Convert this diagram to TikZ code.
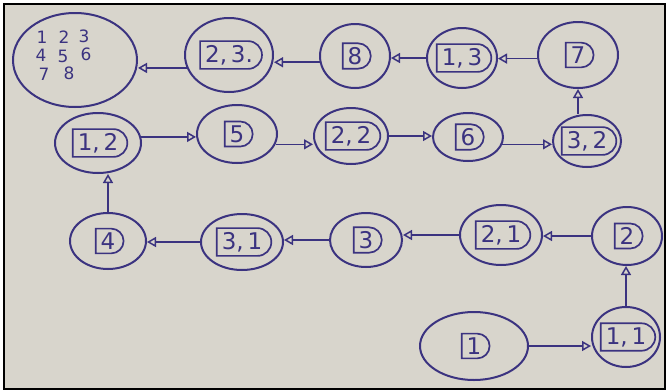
\documentclass[tikz,border=0pt]{standalone}
\usepackage{fontspec}
\setmainfont{DejaVu Sans}
\usetikzlibrary{arrows.meta,shapes.geometric,shapes.misc}
\definecolor{paper}{HTML}{D8D5CC}
\definecolor{ink}{HTML}{3B3380}
\tikzset{
  ell/.style={draw=ink, line width=2pt, ellipse, inner sep=0pt},
  dbox/.style={draw=ink, line width=1.7pt, rounded rectangle, rounded rectangle left arc=none,
    inner xsep=5pt, inner ysep=4pt, text=ink, font=\fontsize{23}{23}\selectfont},
  gtxt/.style={text=ink, inner sep=0pt, font=\fontsize{17}{17}\selectfont},
  link/.style={draw=ink, line width=1.6pt, -{Triangle[open, length=9pt, width=10pt, line width=1.5pt]}}
}
% state node: name, x, y, width, height, label
\newcommand\stnode[6]{%
  \node[ell, minimum width=#4pt, minimum height=#5pt] (#1) at (#2,#3) {};
  \node[dbox] (#1t) at (#1) {#6};
}
\begin{document}
\begin{tikzpicture}[x=1pt, y=-1pt]
  \useasboundingbox (0,0) rectangle (668,391);
  \fill[white] (0,0) rectangle (668,391);
  \draw[black, line width=2.2pt, fill=paper] (4,4) rectangle (665,389);

  % goal state with its board
  \node[ell, minimum width=124pt, minimum height=94pt] (goal) at (75,60) {};
  \node[gtxt] (g1) at (42,37) {1};
  \node[gtxt] (g2) at (64,37) {2};
  \node[gtxt] (g3) at (84,36) {3};
  \node[gtxt] (g4) at (41,55) {4};
  \node[gtxt] (g5) at (63,56) {5};
  \node[gtxt] (g6) at (86,54) {6};
  \node[gtxt] (g7) at (44,74) {7};
  \node[gtxt] (g8) at (69,73) {8};

  % top row
  \stnode{s23}{229}{55}{88}{74}{2,\,3.}
  \stnode{s8}{355}{56}{70}{64}{8}
  \stnode{s13}{462}{58}{70}{60}{1,\,3}
  \stnode{s7}{578}{55}{80}{66}{7}

  % middle row
  \stnode{s12}{98}{143}{86}{60}{1,\,2}
  \stnode{s5}{237}{134}{80}{58}{5}
  \stnode{s22}{351}{136}{74}{56}{2,\,2}
  \stnode{s6}{468}{137}{70}{48}{6}
  \stnode{s32}{587}{141}{68}{52}{3,\,2}

  % lower row
  \stnode{s4}{108}{241}{76}{56}{4}
  \stnode{s31}{242}{242}{82}{56}{3,\,1}
  \stnode{s3}{366}{240}{72}{54}{3}
  \stnode{s21}{501}{235}{82}{60}{2,\,1}
  \stnode{s2}{627}{236}{70}{58}{2}

  % start row
  \stnode{s1}{474}{346}{108}{68}{1}
  \stnode{s11}{626}{337}{68}{60}{1,\,1}

  % path through the states
  \draw[link] (s1.east) -- (s11.west |- s1.east);
  \draw[link] (s11.north) -- (s2.south -| s11.north);
  \draw[link] (s2.west) -- (s21.east |- s2.west);
  \draw[link] (s21.west) -- (s3.east |- s21.west);
  \draw[link] (s3.west) -- (s31.east |- s3.west);
  \draw[link] (s31.west) -- (s4.east |- s31.west);
  \draw[link] (s4.north) -- (s12.south -| s4.north);
  \draw[link] (s12.8) -- (s5.west |- s12.8);
  \draw[link] (s5.-15) -- (s22.west |- s5.-15);
  \draw[link] (s22.east) -- (s6.west |- s22.east);
  \draw[link] (s6.-12) -- (s32.west |- s6.-12);
  \draw[link] (s7.south |- s32.north) -- (s7.south);
  \draw[link] (s7.185) -- (s13.east |- s7.185);
  \draw[link] (s13.west) -- (s8.east |- s13.west);
  \draw[link] (s8.190) -- (s23.east |- s8.190);
  \draw[link] (s23.197) -- (goal.east |- s23.197);
\end{tikzpicture}
\end{document}
